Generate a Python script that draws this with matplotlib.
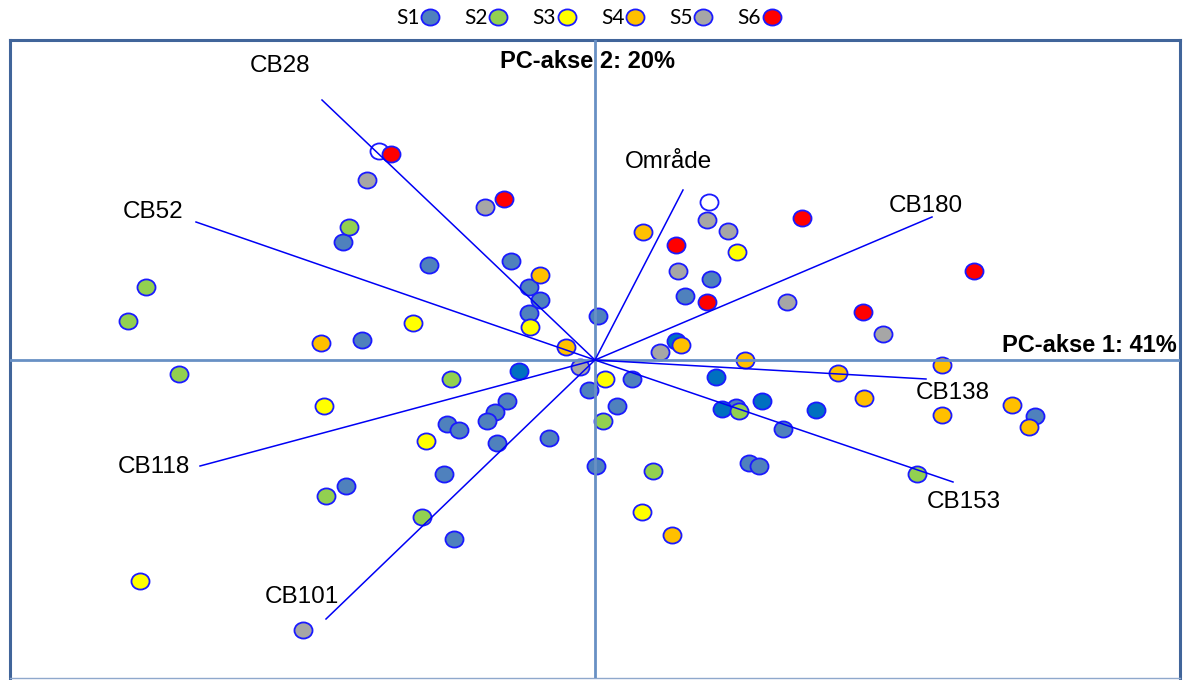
import numpy as np
import matplotlib
matplotlib.use("Agg")
import matplotlib.pyplot as plt
from matplotlib.path import Path
from matplotlib.lines import Line2D

# ---- sample scores on the first two principal components ----
s1_x = [-2.52, -2.33, -1.66, -0.84, -0.66, -0.55, -0.66, 0.03, -0.06, 0.37, 0.22,
        -0.88, -1.00, -1.08, -1.48, -1.36, -0.98, -0.46, -1.51, 0.01, -1.41, -2.49,
        1.16, 0.90, 1.41, 1.88, 1.54, 1.64, 4.40]
s1_y = [1.18, 0.20, 0.95, 0.99, 0.73, 0.60, 0.47, 0.44, -0.30, -0.19, -0.46,
        -0.41, -0.52, -0.61, -0.64, -0.70, -0.83, -0.78, -1.14, -1.06, -1.79, -1.26,
        0.81, 0.64, -0.47, -0.69, -1.03, -1.06, -0.56]

s1b_x = [-0.76, 0.81, 1.21, 1.27, 1.67, 2.21]
s1b_y = [-0.11, 0.19, -0.17, -0.49, -0.41, -0.50]

s2_x = [-2.46, -4.49, -4.67, -4.16, -1.44, -2.69, -1.73, 0.08, 0.58, 1.44, 3.22]
s2_y = [1.33, 0.73, 0.39, -0.14, -0.19, -1.36, -1.57, -0.61, -1.11, -0.51, -1.14]

s3_x = [-1.82, -0.65, -2.71, -1.69, -4.55, 0.10, 0.47, 1.42]
s3_y = [0.37, 0.33, -0.46, -0.81, -2.21, -0.19, -1.52, 1.08]

s4_x = [-2.74, -0.55, -0.29, 0.48, 0.86, 1.50, 2.43, 2.69, 3.47, 3.47, 4.17, 4.34, 0.77]
s4_y = [0.17, 0.85, 0.13, 1.28, 0.15, 0.00, -0.13, -0.38, -0.05, -0.55, -0.45, -0.67, -1.75]

s5_x = [-2.28, -1.10, -0.15, -2.92, 1.12, 1.33, 0.83, 0.65, 1.92, 2.88]
s5_y = [1.80, 1.53, -0.07, -2.70, 1.40, 1.29, 0.89, 0.08, 0.58, 0.26]

s6_x = [-2.04, -0.91, 0.81, 1.12, 2.07, 2.68, 3.79]
s6_y = [2.06, 1.61, 1.15, 0.58, 1.42, 0.48, 0.89]

open_x = [-2.16, 1.14]
open_y = [2.09, 1.58]

# ---- variable loadings (scaled) ----
load_names = ["CB28", "CB52", "CB118", "CB101", "Område", "CB180", "CB138", "CB153"]
load_x = [-2.73, -3.99, -3.95, -2.69, 0.88, 3.37, 3.31, 3.58]
load_y = [2.60, 1.38, -1.06, -2.59, 1.70, 1.43, -0.19, -1.22]
label_x = [-3.15, -4.42, -4.41, -2.93, 0.74, 3.31, 3.58, 3.69]
label_y = [2.94, 1.48, -1.07, -2.37, 1.98, 1.54, -0.33, -1.42]

series_labels = ["S1", "S2", "S3", "S4", "S5", "S6"]
series_colors = ["#4F81BD", "#92D050", "#FFFF00", "#FFC000", "#A6A6A6", "#FF0000"]

EDGE = "#1a1aff"
LOAD = "#0000F5"
AXLINE = "#6890C4"
FRAME = "#41659A"

# slightly wide ellipse marker
uc = Path.unit_circle()
ellipse = Path(uc.vertices * np.array([1.12, 1.0]), uc.codes)
MS = 13.0
MEW = 1.3

fig = plt.figure(figsize=(11.89, 6.80), dpi=100)
ax = fig.add_axes([10 / 1189, 2 / 680, 1170 / 1189, 638 / 680])
ax.set_xlim(-5.85, 5.85)
ax.set_ylim(-3.18, 3.20)
ax.set_xticks([])
ax.set_yticks([])
for side in ("top", "left", "right"):
    ax.spines[side].set_color(FRAME)
    ax.spines[side].set_linewidth(2.2)
ax.spines["bottom"].set_color("#8FA8CC")
ax.spines["bottom"].set_linewidth(1.0)


def scatter(xs, ys, face, z=2):
    ax.plot(xs, ys, linestyle="none", marker=ellipse, markersize=MS,
            markerfacecolor=face, markeredgecolor=EDGE, markeredgewidth=MEW,
            zorder=z)


scatter(s1_x, s1_y, series_colors[0])
scatter(s1b_x, s1b_y, "#0070C0")
scatter(s2_x, s2_y, series_colors[1])
scatter(s3_x, s3_y, series_colors[2])
scatter(s4_x, s4_y, series_colors[3])
scatter(s5_x, s5_y, series_colors[4])
scatter(open_x, open_y, "white")
scatter(s6_x, s6_y, series_colors[5])

# principal axes through the origin
ax.axhline(0, color=AXLINE, linewidth=2.0, zorder=3)
ax.axvline(0, color=AXLINE, linewidth=2.0, zorder=3)

# loading vectors
for name, lx, ly, tx, ty in zip(load_names, load_x, load_y, label_x, label_y):
    ax.plot([0, lx], [0, ly], color=LOAD, linewidth=1.1, zorder=4)
    ax.text(tx, ty, name, ha="center", va="center", fontsize=17.5,
            family="Liberation Sans", color="black", zorder=5)

ax.text(-0.08, 2.98, "PC-akse 2: 20%", ha="center", va="center", fontsize=17,
        fontweight="bold", family="Liberation Sans", zorder=5)
ax.text(5.82, 0.14, "PC-akse 1: 41%", ha="right", va="center", fontsize=17,
        fontweight="bold", family="Liberation Sans", zorder=5)

# legend row above the frame
handles = [Line2D([], [], linestyle="none", marker=ellipse, markersize=MS,
                  markerfacecolor=c, markeredgecolor=EDGE, markeredgewidth=MEW)
           for c in series_colors]
fig.legend(handles, series_labels, loc="center", bbox_to_anchor=(588 / 1189, 1 - 18 / 680),
           ncol=6, frameon=False, markerfirst=False, handlelength=0.8,
           handletextpad=0.1, columnspacing=1.25, borderpad=0, borderaxespad=0,
           prop={"family": "Lato", "size": 15})

fig.savefig("out.png", dpi=100)
